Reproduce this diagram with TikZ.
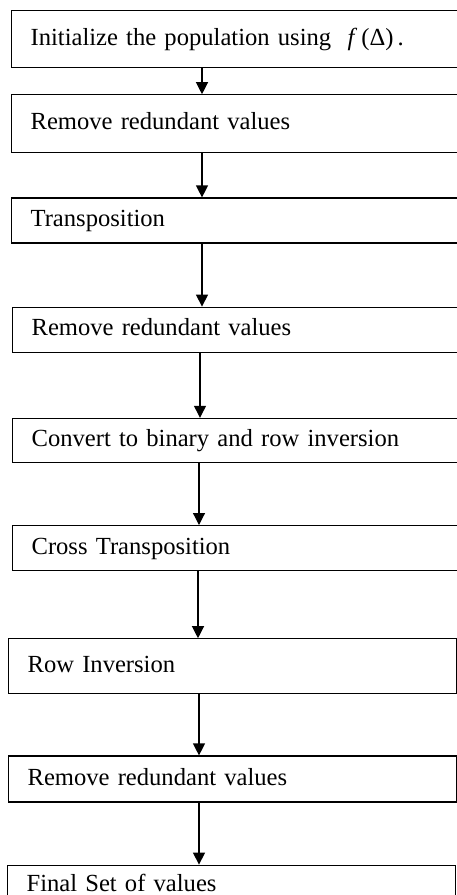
\documentclass[tikz,border=0pt]{standalone}
\usepackage{fontspec}
\setmainfont{Liberation Serif}
\usepackage{tikz}
\usetikzlibrary{positioning, arrows.meta}

\begin{document}
\begin{tikzpicture}[
        x=1pt, y=-1pt,
        node distance=26pt,
        >={Triangle[width=12pt, length=12pt]},
        step box/.style={draw, line width=1.2pt, anchor=north west,
          text width=410pt, inner xsep=19pt, inner ysep=0pt, align=left,
          text height=17pt, text depth=5pt,
          font=\fontsize{24.6}{29}\selectfont},
        flow/.style={->, line width=1.2pt},
    ]
        \useasboundingbox (0,0) rectangle (457,895);

        \node[step box, minimum height=57pt] at (11,10) (init) {Initialize the population using \ \textit{f}\,(Δ)\,.};
        \node[step box, minimum height=58pt, below=26pt of init.south west, anchor=north west] (redund1) {Remove redundant values};
        \node[step box, minimum height=45pt, below=44pt of redund1.south west, anchor=north west] (transp) {Transposition};
        \node[step box, minimum height=45pt, below=63pt of transp.south west, anchor=north west, xshift=1pt] (redund2) {Remove redundant values};
        \node[step box, minimum height=44pt, below=65pt of redund2.south west, anchor=north west] (binary) {Convert to binary and row inversion};
        \node[step box, minimum height=45pt, below=62pt of binary.south west, anchor=north west] (cross) {Cross Transposition};
        \node[step box, minimum height=55pt, below=67pt of cross.south west, anchor=north west, xshift=-4pt] (rowinv) {Row Inversion};
        \node[step box, minimum height=46pt, below=61pt of rowinv.south west, anchor=north west] (redund3) {Remove redundant values};
        \node[step box, minimum height=40pt, below=62pt of redund3.south west, anchor=north west, xshift=-1pt] (final) {Final Set of values};

        \draw[flow] ([xshift=191pt]init.south west) -- ([xshift=191pt]redund1.north west);
        \draw[flow] ([xshift=191pt]redund1.south west) -- ([xshift=191pt]transp.north west);
        \draw[flow] ([xshift=191pt]transp.south west) -- ([xshift=190pt]redund2.north west);
        \draw[flow] ([xshift=188pt]redund2.south west) -- ([xshift=188pt]binary.north west);
        \draw[flow] ([xshift=187pt]binary.south west) -- ([xshift=187pt]cross.north west);
        \draw[flow] ([xshift=186pt]cross.south west) -- ([xshift=190pt]rowinv.north west);
        \draw[flow] ([xshift=191pt]rowinv.south west) -- ([xshift=191pt]redund3.north west);
        \draw[flow] ([xshift=191pt]redund3.south west) -- ([xshift=192pt]final.north west);
    \end{tikzpicture}
\end{document}
